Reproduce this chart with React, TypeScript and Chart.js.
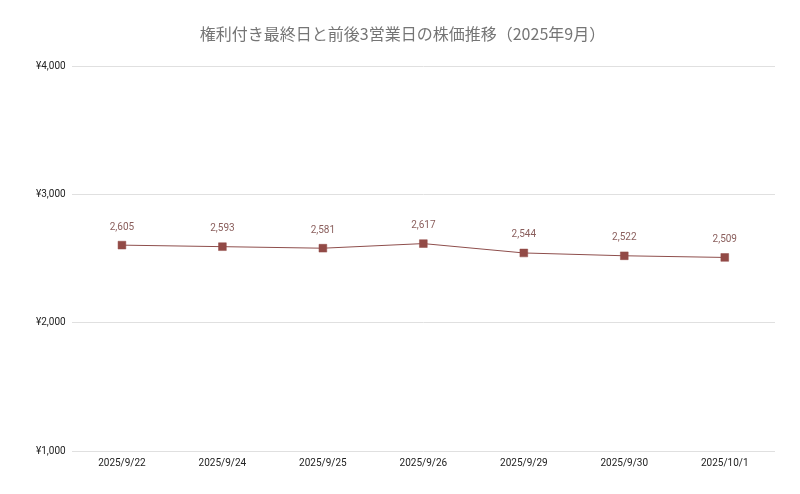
import { useEffect, useRef } from "react"
import { Chart, registerables } from "chart.js"
import type { Plugin } from "chart.js"

Chart.register(...registerables)

const dates = [
  "2025/9/22",
  "2025/9/24",
  "2025/9/25",
  "2025/9/26",
  "2025/9/29",
  "2025/9/30",
  "2025/10/1",
]
const prices = [2605, 2593, 2581, 2617, 2544, 2522, 2509]
const yTicks = [1000, 2000, 3000, 4000]

const LINE_COLOR = "#8e4e4c"
const POINT_COLOR = "#924a46"
const LABEL_COLOR = "#8a5e5c"

// draws the value above each point
const valueLabels: Plugin<"line"> = {
  id: "valueLabels",
  afterDatasetsDraw(chart) {
    const ctx = chart.ctx
    const meta = chart.getDatasetMeta(0)
    ctx.save()
    ctx.font = "10px Roboto, 'Noto Sans', sans-serif"
    ctx.fillStyle = LABEL_COLOR
    ctx.textAlign = "center"
    ctx.textBaseline = "middle"
    meta.data.forEach((pt, i) => {
      ctx.fillText(prices[i].toLocaleString("en-US"), pt.x, pt.y - 18)
    })
    ctx.restore()
  },
}

export default function App() {
  const chartRef = useRef<HTMLCanvasElement>(null)
  const chartInstance = useRef<Chart | null>(null)

  useEffect(() => {
    document.body.style.margin = "0"
    if (!chartRef.current) return
    if (chartInstance.current) chartInstance.current.destroy()
    const ctx = chartRef.current.getContext("2d")
    if (!ctx) return

    chartInstance.current = new Chart(ctx, {
      type: "line",
      data: {
        labels: dates,
        datasets: [
          {
            label: "株価",
            data: prices,
            borderColor: LINE_COLOR,
            borderWidth: 1,
            pointStyle: "rect",
            pointRadius: 5.5,
            pointBorderWidth: 0.5,
            pointBackgroundColor: POINT_COLOR,
            pointBorderColor: POINT_COLOR,
            tension: 0,
          },
        ],
      },
      options: {
        animation: false,
        responsive: true,
        maintainAspectRatio: false,
        layout: { padding: { left: 30, right: 25, top: 10, bottom: 19 } },
        scales: {
          x: {
            offset: true,
            grid: { display: false, drawTicks: false },
            border: { display: false },
            ticks: {
              color: "#222",
              font: { family: "Roboto, 'Noto Sans', sans-serif", size: 10 },
              padding: 6,
              maxRotation: 0,
            },
          },
          y: {
            min: yTicks[0],
            max: yTicks[yTicks.length - 1],
            afterBuildTicks: (axis) => {
              axis.ticks = yTicks.map((v) => ({ value: v }))
            },
            grid: { color: "#e0e0e0", drawTicks: false },
            border: { display: false },
            ticks: {
              color: "#222",
              font: { family: "Roboto, 'Noto Sans', sans-serif", size: 10 },
              padding: 6,
              callback: (v) => "¥" + Number(v).toLocaleString("en-US"),
            },
          },
        },
        plugins: {
          legend: { display: false },
          tooltip: { enabled: false },
          title: {
            display: true,
            text: "権利付き最終日と前後3営業日の株価推移（2025年9月）",
            color: "#757575",
            font: { family: "'Noto Sans CJK JP', sans-serif", size: 16, weight: "normal" },
            padding: { top: 14, bottom: 23 },
          },
        },
      },
      plugins: [valueLabels],
    })

    return () => {
      if (chartInstance.current) {
        chartInstance.current.destroy()
        chartInstance.current = null
      }
    }
  }, [])

  return (
    <div style={{ width: 800, height: 494, background: "#fff" }}>
      <canvas ref={chartRef} />
    </div>
  )
}
